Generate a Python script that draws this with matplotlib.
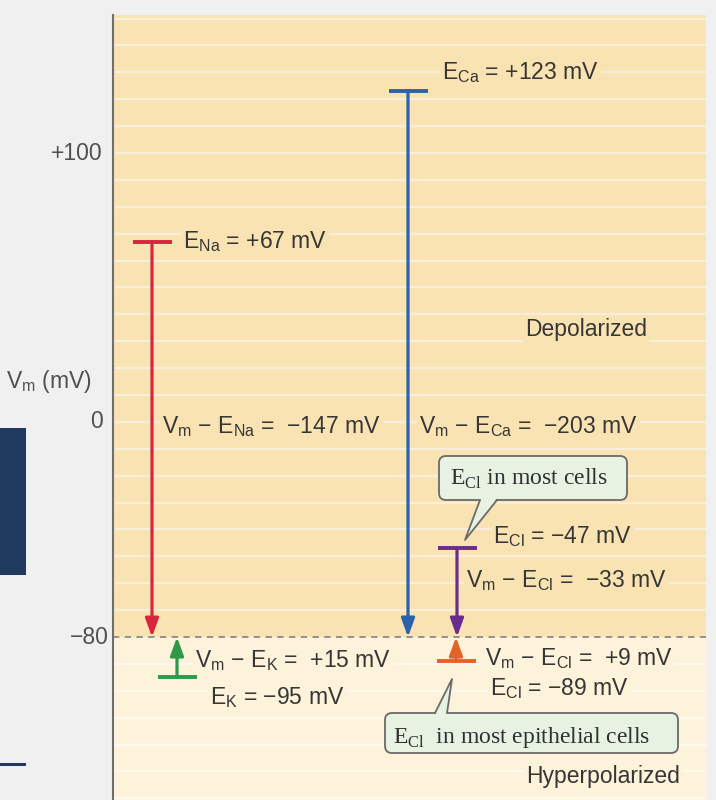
import matplotlib.pyplot as plt
import matplotlib as mpl
from matplotlib.patches import FancyBboxPatch, Polygon, Rectangle
from matplotlib.transforms import Affine2D, blended_transform_factory

#Global style parameters
mpl.rcParams['font.family'] = 'Liberation Sans'
mpl.rcParams['font.size'] = 16.5
mpl.rcParams['mathtext.fontset'] = 'custom'
mpl.rcParams['mathtext.rm'] = 'Liberation Sans'
mpl.rcParams['mathtext.sf'] = 'Liberation Serif'  # subscripts inside the serif callouts

#Data (mV)
v_m = -80
ions = ['Na', 'Ca', 'Cl', 'K', 'Cl']
e_ion = [67, 123, -47, -95, -89]
y_ticks = [100, 0, -80]
y_tick_labels = ['+100', '0', '\u221280']

#Layout (image pixels)
colors = ['#d8263d', '#2a63ac', '#6a2c8f', '#2e9a49', '#e3622a']
col_x = [152, 408, 457, 177, 456]
e_lab_pos = [(183, 248), (442, 79), (493, 543), (210, 704), (490, 695)]
d_lab_pos = [(162, 433), (419, 433), (466, 587), (195, 667), (485, 665)]

W, H = 716, 800
Y0, K = 421.9, 2.689          # pixel row of 0 mV, pixels per mV
UP, LOW = '#fae3b2', '#fdf2da'
STRIPE_UP, STRIPE_LOW = '#f8eedb', '#fffaf1'
TXT = '#363636'
GRAY = '#505050'

fig = plt.figure(figsize=(W / 100, H / 100), dpi=100, facecolor='#f0f0f0')
px = Affine2D().scale(1 / W, -1 / H).translate(0, 1) + fig.transFigure

ax = fig.add_axes([113 / W, 0, 593 / W, 785 / H])
ax.set_xlim(113, 706)
ax.set_ylim((Y0 - 800) / K, (Y0 - 15) / K)
ax.set_facecolor(UP)
ymin, ymax = ax.get_ylim()
ax.axhspan(ymin, v_m, color=LOW, lw=0, zorder=0.2)

#Stripes every 10 mV
for v in range(-140, 160, 10):
    if v == v_m:
        continue
    ax.axhline(v, color=STRIPE_UP if v > v_m else STRIPE_LOW, lw=1.6, zorder=0.5)
ax.axhline(v_m, color='#8a8a8a', ls=(0, (3.5, 3)), lw=1.3, zorder=1)

#Spines and ticks
for s in ['top', 'right', 'bottom']:
    ax.spines[s].set_visible(False)
ax.spines['left'].set_color('#6e6e6e')
ax.spines['left'].set_linewidth(1.5)
ax.set_xticks([])
ax.set_yticks([])

tick_tr = blended_transform_factory(px, ax.transData)
for v, lab, xr in zip(y_ticks, y_tick_labels, [102, 103, 109]):
    ax.text(xr, v, lab, transform=tick_tr, ha='right', va='center',
            color=GRAY, clip_on=False)


def mv(v):
    return f'{v:+d}'.replace('-', '\u2212')


def label(pos, s, **kw):
    bg = UP if pos[1] < 630 else LOW
    ax.text(pos[0], pos[1], s, transform=px, ha='left', va='baseline',
            color=TXT, zorder=2.5,
            bbox=dict(fc=bg, ec='none', pad=1.5), **kw)


#Arrows from each equilibrium potential to Vm
for ion, e, c, x, ep, dp in zip(ions, e_ion, colors, col_x, e_lab_pos, d_lab_pos):
    ax.annotate(
        '', xy=(x, v_m), xytext=(x, e),
        arrowprops=dict(arrowstyle='-|>,head_length=0.55,head_width=0.2',
                        color=c, lw=2.3, shrinkA=0, shrinkB=0,
                        mutation_scale=20),
        zorder=3
    )
    ax.plot([x - 19.5, x + 19.5], [e, e], color=c, lw=2.8,
            solid_capstyle='butt', zorder=3)
    label(ep, f'E$_\\mathrm{{{ion}}}$ = {mv(e)} mV')
    label(dp, f'V$_\\mathrm{{m}}$ \u2212 E$_\\mathrm{{{ion}}}$ =  {mv(v_m - e)} mV')

label((525, 336), 'Depolarized')
label((526, 783), 'Hyperpolarized')

#Callout boxes
callouts = [
    ((439, 456, 188, 44), (450, 485), 'E$_\\mathsf{Cl}$ in most cells',
     [(480, 500), (465, 540), (497, 500)], -2),
    ((385, 713, 293, 40), (393, 743), 'E$_\\mathsf{Cl}$  in most epithelial cells',
     [(435, 713), (452, 679), (447, 713)], 2),
]
BOX_FC, BOX_EC = '#e8f2e2', '#6a6a6a'
for (bx, by, bw, bh), tpos, txt, wedge, inset in callouts:
    ax.add_patch(FancyBboxPatch((bx, by), bw, bh, transform=px,
                                boxstyle='round,pad=0,rounding_size=7',
                                fc=BOX_FC, ec=BOX_EC, lw=1.3, zorder=5,
                                clip_on=False))
    fill = [(wedge[0][0], wedge[0][1] + inset), wedge[1],
            (wedge[2][0], wedge[2][1] + inset)]
    ax.add_patch(Polygon(fill, closed=True, transform=px, fc=BOX_FC,
                         ec='none', zorder=6, clip_on=False))
    ax.plot([p[0] for p in wedge], [p[1] for p in wedge], transform=px,
            color=BOX_EC, lw=1.3, zorder=6, clip_on=False)
    ax.text(tpos[0], tpos[1], txt, transform=px, ha='left', va='baseline',
            family='Liberation Serif', fontsize=17, color='#303030', zorder=7)

#Axis title and side decorations
fig.text(6, 388, 'V$_\\mathrm{m}$ (mV)', transform=px, ha='left',
         va='baseline', color=GRAY)
fig.add_artist(Rectangle((0, 428), 26, 147, transform=px, fc='#1f3a5e', ec='none'))
fig.add_artist(Rectangle((0, 763), 26, 3, transform=px, fc='#1f3a5e', ec='none'))

fig.savefig('out.png', dpi=100, facecolor=fig.get_facecolor())
print('\nGraph generated successfully')
